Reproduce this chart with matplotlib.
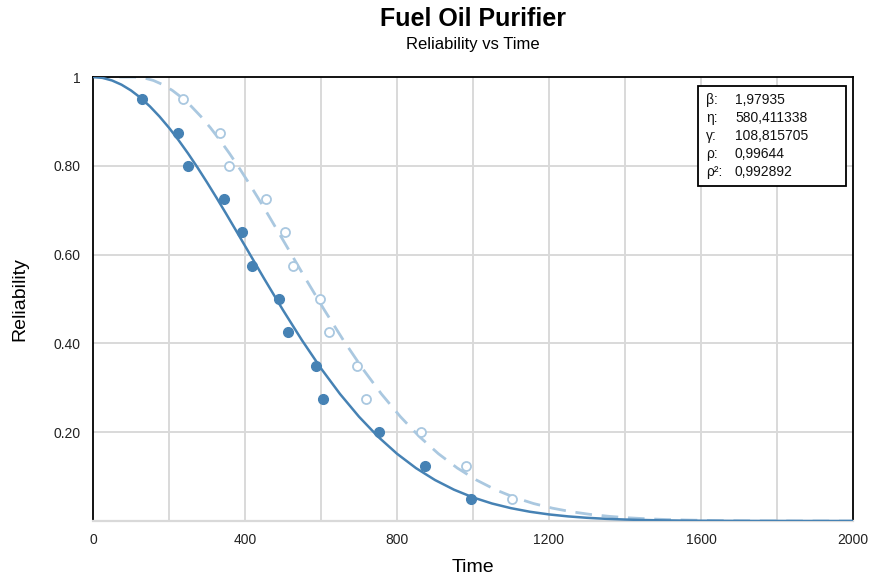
import matplotlib
matplotlib.use("Agg")
import matplotlib.pyplot as plt

plt.rcParams['font.family'] = ['Liberation Sans', 'DejaVu Sans']

# Data points (median ranks)
rank_R = [0.95, 0.875, 0.80, 0.725, 0.65, 0.575, 0.50, 0.425, 0.35, 0.275, 0.20, 0.125, 0.05]
adjusted_time = [130, 225, 249, 346, 393, 418, 490, 514, 587, 605, 753, 874, 994]
original_time = [238, 334, 359, 455, 504, 526, 597, 622, 694, 718, 862, 982, 1103]

# Fitted curve (solid)
curve_t = [0, 25, 50, 75, 100, 125, 150, 175, 200, 225, 250, 275, 300, 325, 350, 375, 400,
           450, 500, 550, 600, 650, 700, 750, 800, 850, 900, 950, 1000, 1050, 1100, 1150,
           1200, 1250, 1300, 1350, 1400, 1450, 1500, 1550, 1600, 1650, 1700, 1750, 1800,
           1850, 1900, 1950, 2000]
curve_R = [1.0, 0.9980, 0.9922, 0.9827, 0.9697, 0.9533, 0.9336, 0.9110, 0.8857, 0.8579,
           0.8280, 0.7962, 0.7627, 0.7281, 0.6925, 0.6562, 0.6197,
           0.5464, 0.4750, 0.4070, 0.3437, 0.2861, 0.2349, 0.1900, 0.1515, 0.1191, 0.0923,
           0.0705, 0.0531, 0.0394, 0.0289, 0.0208, 0.0148, 0.0104, 0.0072, 0.0049, 0.0033,
           0.0022, 0.0014, 0.0009, 0.0006, 0.0004, 0.0002, 0.0001, 0.0001, 0.0, 0.0, 0.0, 0.0]

# Fitted curve with location parameter (dashed)
shifted_t = [0, 109, 134, 159, 184, 209, 234, 259, 284, 309, 334, 359, 384, 409, 434, 459,
             484, 509, 559, 609, 659, 709, 759, 809, 859, 909, 959, 1009, 1059, 1109, 1159,
             1209, 1259, 1309, 1359, 1409, 1459, 1509, 1559, 1609, 1659, 1709, 1759, 1809,
             1859, 1909, 1959, 2000]
shifted_R = [1.0, 1.0, 0.9980, 0.9922, 0.9827, 0.9697, 0.9533, 0.9336, 0.9110, 0.8857,
             0.8579, 0.8280, 0.7962, 0.7627, 0.7281, 0.6925, 0.6562, 0.6197,
             0.5464, 0.4750, 0.4070, 0.3437, 0.2861, 0.2349, 0.1900, 0.1515, 0.1191, 0.0923,
             0.0705, 0.0531, 0.0394, 0.0289, 0.0208, 0.0148, 0.0104, 0.0072, 0.0049, 0.0033,
             0.0022, 0.0014, 0.0009, 0.0006, 0.0004, 0.0002, 0.0001, 0.0001, 0.0, 0.0]

param_labels = ["β:", "η:", "γ:", "ρ:", "ρ²:"]
param_values = ["1,97935", "580,411338", "108,815705", "0,99644", "0,992892"]

x_ticks = [0, 400, 800, 1200, 1600, 2000]
x_grid = [200, 400, 600, 800, 1000, 1200, 1400, 1600, 1800]
y_ticks = [0.2, 0.4, 0.6, 0.8, 1.0]
y_ticklabels = ["0.20", "0.40", "0.60", "0.80", "1"]

dark = "#4682b4"
light = "#aac8e0"

fig = plt.figure(figsize=(8.7, 5.77), dpi=100)
ax = fig.add_axes([93/870, 1-521/577, (853-93)/870, (521-77)/577])

for xv in x_grid:
    ax.axvline(xv, color="#d9d9d9", lw=1.4, zorder=0)
for yv in [0.2, 0.4, 0.6, 0.8]:
    ax.axhline(yv, color="#d9d9d9", lw=1.4, zorder=0)

ax.plot(shifted_t, shifted_R, color=light, lw=2, dashes=(6, 3.5), zorder=2)
ax.plot(curve_t, curve_R, color=dark, lw=1.8, zorder=3)
ax.plot(original_time, rank_R, 'o', ms=6.5, mfc="white", mec=light, mew=1.3, zorder=4)
ax.plot(adjusted_time, rank_R, 'o', ms=7, mfc=dark, mec=dark, zorder=5)

ax.set_xlim(0, 2000)
ax.set_ylim(0, 1)
ax.set_xticks(x_ticks)
ax.set_xticklabels([str(v) for v in x_ticks])
ax.set_yticks(y_ticks)
ax.set_yticklabels(y_ticklabels)
ax.tick_params(length=0, labelsize=10, colors="#222222", pad=9)

for side in ["left", "top", "right"]:
    ax.spines[side].set_color("black")
    ax.spines[side].set_linewidth(1.3)
ax.spines["bottom"].set_color("#d9d9d9")
ax.spines["bottom"].set_linewidth(1.6)

ax.set_xlabel("Time", fontsize=14, labelpad=8)
ax.set_ylabel("Reliability", fontsize=14, labelpad=18)

fig.text(473/870, 1-19/577, "Fuel Oil Purifier", ha="center", va="center",
         fontsize=18, fontweight="bold")
fig.text(473/870, 1-44/577, "Reliability vs Time", ha="center", va="center", fontsize=12)

# Parameter box
box = plt.Rectangle((698/870, 1-186/577), (846-698)/870, (186-86)/577,
                    transform=fig.transFigure, fill=True, facecolor="white",
                    edgecolor="black", lw=1.3, zorder=10)
fig.add_artist(box)
for i, (lab, val) in enumerate(zip(param_labels, param_values)):
    yy = 1 - (100 + i * 18) / 577
    fig.text(706/870, yy, lab, ha="left", va="center", fontsize=10, color="#111111", zorder=11)
    fig.text(735/870, yy, val, ha="left", va="center", fontsize=10, color="#111111", zorder=11)

fig.savefig("out.png", dpi=100)
